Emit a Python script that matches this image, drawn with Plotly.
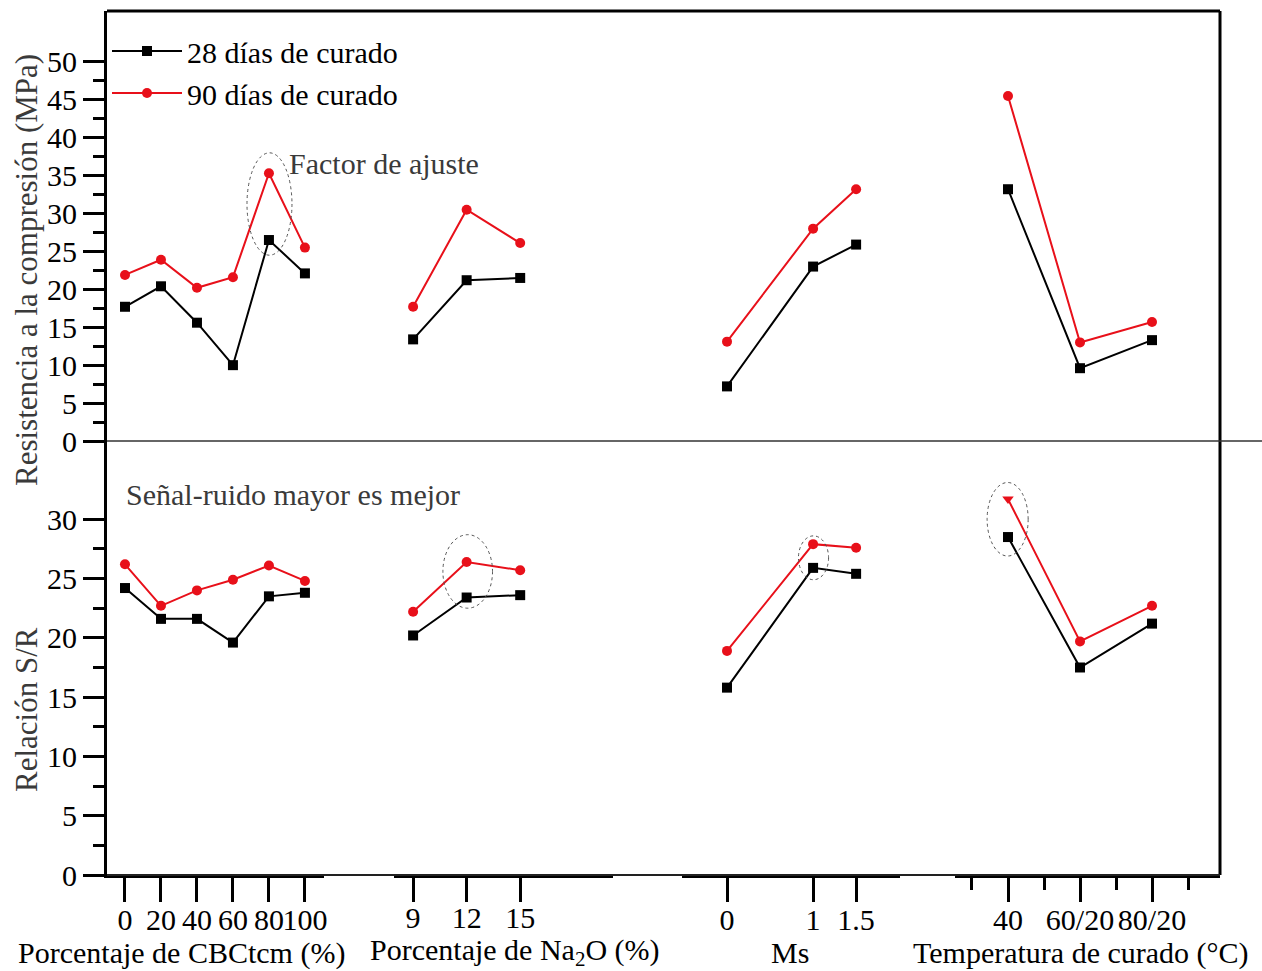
import plotly.graph_objects as go

# ---- data ----
CBC = [0, 20, 40, 60, 80, 100]
cbc_28_fc = [17.7, 20.4, 15.6, 10.0, 26.5, 22.1]
cbc_90_fc = [21.9, 23.9, 20.2, 21.6, 35.3, 25.5]
cbc_28_sr = [24.2, 21.6, 21.6, 19.6, 23.5, 23.8]
cbc_90_sr = [26.2, 22.7, 24.0, 24.9, 26.1, 24.8]

NA2O = [9, 12, 15]
na_28_fc = [13.4, 21.2, 21.5]
na_90_fc = [17.7, 30.5, 26.1]
na_28_sr = [20.2, 23.4, 23.6]
na_90_sr = [22.2, 26.4, 25.7]

MS = [0, 1, 1.5]
ms_28_fc = [7.2, 23.0, 25.9]
ms_90_fc = [13.1, 28.0, 33.2]
ms_28_sr = [15.8, 25.9, 25.4]
ms_90_sr = [18.9, 27.9, 27.6]

TEMP = ["40", "60/20", "80/20"]
t_28_fc = [33.2, 9.6, 13.3]
t_90_fc = [45.5, 13.0, 15.7]
t_28_sr = [28.5, 17.5, 21.2]
t_90_sr = [31.7, 19.7, 22.7]

SERIES = ["28 días de curado", "90 días de curado"]

FONT = "Liberation Serif"
FS = 30
RED = "#E8101A"
BLACK = "#000000"

# ---- geometry (pixels) ----
W, H = 1262, 971
ML, MR, MT, MB = 107, 42, 11, 96
PW = W - ML - MR
PH = H - MT - MB
SPLIT = 434 / PH  # lower panel share of the plot height


def px_x(p):
    return (p - ML) / PW


def px_y(p):
    return (H - MB - p) / PH


fig = go.Figure()

groups = [
    ("x", CBC, (cbc_28_fc, cbc_90_fc), (cbc_28_sr, cbc_90_sr)),
    ("x2", NA2O, (na_28_fc, na_90_fc), (na_28_sr, na_90_sr)),
    ("x3", MS, (ms_28_fc, ms_90_fc), (ms_28_sr, ms_90_sr)),
    ("x4", list(range(len(TEMP))), (t_28_fc, t_90_fc), (t_28_sr, t_90_sr)),
]

first = True
for xa, xs, fc, sr in groups:
    for ya, pair in (("y2", fc), ("y", sr)):
        for k, vals in enumerate(pair):
            color = BLACK if k == 0 else RED
            symbol = "square" if k == 0 else "circle"
            if xa == "x4" and ya == "y" and k == 1:
                symbol = ["triangle-down", "circle", "circle"]
            fig.add_trace(go.Scatter(
                x=xs, y=vals, xaxis=xa, yaxis=ya,
                mode="lines+markers",
                name=SERIES[k], legendgroup=SERIES[k],
                showlegend=first,
                line=dict(color=color, width=2),
                marker=dict(color=color, size=10, symbol=symbol),
            ))
        first = False

tickfont = dict(family=FONT, size=FS, color="black")

xcommon = dict(
    anchor="y", showgrid=False, zeroline=False, showline=True,
    linecolor="black", linewidth=3, ticks="outside", ticklen=24,
    tickwidth=3, tickcolor="black", tickfont=tickfont,
    tickangle=0, automargin=False,
)
ycommon = dict(
    anchor="x", showgrid=False, zeroline=False, showline=True,
    linecolor="black", linewidth=3, ticks="outside", ticklen=21,
    tickwidth=3, tickcolor="black", tickfont=tickfont, automargin=False,
)
minor_y = dict(tickmode="array", ticks="outside", ticklen=11, tickwidth=3,
               tickcolor="black")

fig.update_layout(
    width=W, height=H, autosize=False,
    margin=dict(l=ML, r=MR, t=MT, b=MB),
    paper_bgcolor="white", plot_bgcolor="white",
    font=dict(family=FONT, size=FS, color="black"),
    xaxis=dict(domain=[0, px_x(324)], range=[-10, 110.6],
               tickvals=CBC, ticklabelstandoff=-8, **xcommon),
    xaxis2=dict(domain=[px_x(394), px_x(613)], range=[7.93, 20.2],
                tickvals=NA2O, ticklabelstandoff=-10, **xcommon),
    xaxis3=dict(domain=[px_x(682), px_x(900)], range=[-0.523, 2.01],
                tickvals=MS, ticktext=[str(v) for v in MS],
                ticklabelstandoff=-8, **xcommon),
    xaxis4=dict(domain=[px_x(955), 1], range=[-0.736, 2.944],
                tickvals=list(range(len(TEMP))), ticktext=TEMP,
                ticklabelstandoff=-8,
                minor=dict(tickmode="array", tickvals=[-0.5, 0.5, 1.5, 2.5],
                           ticks="outside", ticklen=12, tickwidth=3,
                           tickcolor="black"),
                **xcommon),
    yaxis=dict(domain=[0, SPLIT], range=[0, 36.6],
               tickvals=[0, 5, 10, 15, 20, 25, 30],
               minor=dict(tickvals=[2.5, 7.5, 12.5, 17.5, 22.5, 27.5],
                          **minor_y),
               **ycommon),
    yaxis2=dict(domain=[SPLIT, 1], range=[0, 56.7],
                tickvals=list(range(0, 51, 5)),
                minor=dict(tickvals=[2.5 + 5 * i for i in range(10)],
                           **minor_y),
                **ycommon),
    legend=dict(x=0, y=px_y(25), xanchor="left", yanchor="top",
                bgcolor="rgba(0,0,0,0)", itemwidth=70,
                font=dict(family=FONT, size=FS, color="black"),
                tracegroupgap=0),
    showlegend=True,
)

# frame, panel divider and thin base line
shapes = [
    dict(type="line", xref="paper", yref="paper", x0=0, x1=1, y0=1, y1=1,
         line=dict(color="black", width=3)),
    dict(type="line", xref="paper", yref="paper", x0=1, x1=1, y0=0, y1=1,
         line=dict(color="black", width=3)),
    dict(type="line", xref="paper", yref="paper", x0=0, x1=px_x(W),
         y0=SPLIT, y1=SPLIT, line=dict(color="#333333", width=1.5)),
    dict(type="line", xref="paper", yref="paper", x0=0, x1=1, y0=0, y1=0,
         line=dict(color="#222222", width=2)),
]
# dotted rings around the optimum levels
dot = dict(color="#555555", width=1, dash="dot")
shapes += [
    dict(type="circle", xref="x", yref="y2", x0=67.8, x1=92.8,
         y0=24.5, y1=38.0, line=dot),
    dict(type="circle", xref="x2", yref="y", x0=10.67, x1=13.45,
         y0=22.5, y1=28.7, line=dot),
    dict(type="circle", xref="x3", yref="y", x0=0.83, x1=1.18,
         y0=24.9, y1=28.6, line=dot),
    dict(type="circle", xref="x4", yref="y", x0=-0.29, x1=0.28,
         y0=26.9, y1=33.1, line=dot),
]
fig.update_layout(shapes=shapes)

gray = dict(family=FONT, size=FS, color="#3a3a3a")
title_font = dict(family=FONT, size=31, color="#3a3a3a")
blk = dict(family=FONT, size=FS, color="black")
ann = [
    dict(text="Factor de ajuste", x=px_x(287), y=px_y(163), xanchor="left",
         yanchor="middle", font=gray),
    dict(text="Señal-ruido mayor es mejor", x=px_x(124), y=px_y(494),
         xanchor="left", yanchor="middle", font=gray),
    dict(text="Resistencia a la compresión (MPa)", x=px_x(26), y=px_y(270),
         textangle=-90, xanchor="center", yanchor="middle", font=title_font),
    dict(text="Relación S/R", x=px_x(26), y=px_y(710), textangle=-90,
         xanchor="center", yanchor="middle", font=title_font),
    dict(text="Porcentaje de CBCtcm (%)", x=px_x(181), y=px_y(953),
         xanchor="center", yanchor="middle", font=blk),
    dict(text="Porcentaje de Na<sub>2</sub>O (%)", x=px_x(515), y=px_y(952),
         xanchor="center", yanchor="middle", font=blk),
    dict(text="Ms", x=px_x(790), y=px_y(953), xanchor="center",
         yanchor="middle", font=blk),
    dict(text="Temperatura de curado (°C)", x=px_x(1081), y=px_y(953),
         xanchor="center", yanchor="middle", font=blk),
]
for a in ann:
    a.update(xref="paper", yref="paper", showarrow=False)
fig.update_layout(annotations=ann)

fig.write_html("out.html")
